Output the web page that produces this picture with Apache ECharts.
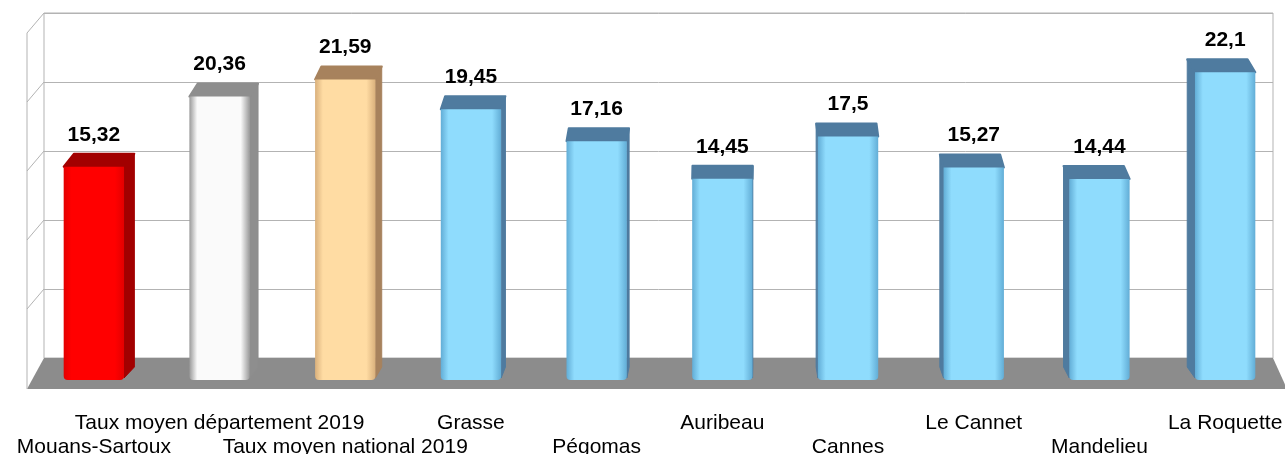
<!DOCTYPE html>
<html>
<head>
<meta charset="utf-8">
<script src="https://cdn.jsdelivr.net/npm/echarts@6/dist/echarts.min.js"></script>
<style>
html,body{margin:0;padding:0;background:#fff;}
#chart{width:1285px;height:454px;}
</style>
</head>
<body>
<div id="chart"></div>
<script>
// ---- data ----
const categories = ['Mouans-Sartoux', 'Taux moyen département 2019', 'Taux moyen national 2019', 'Grasse', 'Pégomas', 'Auribeau', 'Cannes', 'Le Cannet', 'Mandelieu', 'La Roquette'];
const values = [15.32, 20.36, 21.59, 19.45, 17.16, 14.45, 17.5, 15.27, 14.44, 22.1];
const yMin = 0;
const yMax = 25;
const yStep = 5;

// ---- styles (per bar) ----
const RED = {front: '#ff0000', edge: '#e40000', dark: '#a20000'};
const WHITE = {front: '#fafafa', edge: '#9a9a9a', dark: '#8e8e8e'};
const PEACH = {front: '#ffdca3', edge: '#d9b07c', dark: '#a7825d'};
const BLUE = {front: '#8fdcfd', edge: '#62add6', dark: '#4f7b9f'};
const palette = [RED, WHITE, PEACH, BLUE, BLUE, BLUE, BLUE, BLUE, BLUE, BLUE];

const FONT = '"Liberation Sans", Arial, sans-serif';
const GRIDCOL = '#b3b3b3';

function fmt(v) { return String(v).replace('.', ','); }

const chart = echarts.init(document.getElementById('chart'), null, {renderer: 'canvas'});

function renderRoom(params, api) {
  const cs = params.coordSys;
  const x0 = cs.x, x1 = cs.x + cs.width;
  const yb = api.coord([0, yMin])[1];
  const children = [];
  // floor
  children.push({
    type: 'polygon',
    shape: {points: [[x0, yb], [x1, yb], [x1 + 14, yb + 31], [x0 - 17, yb + 31]]},
    style: {fill: '#8c8c8c'}
  });
  // left side wall
  const ytop = api.coord([0, yMax])[1];
  children.push({
    type: 'line',
    shape: {x1: x0 - 17, y1: ytop + 20, x2: x0 - 17, y2: yb + 31},
    style: {stroke: GRIDCOL, lineWidth: 1}
  });
  for (let t = yMin + yStep; t <= yMax; t += yStep) {
    const y = api.coord([0, t])[1];
    children.push({
      type: 'line',
      shape: {x1: x0, y1: y, x2: x0 - 17, y2: y + 20},
      style: {stroke: GRIDCOL, lineWidth: 1}
    });
  }
  return {type: 'group', children: children};
}

function renderBar(params, api) {
  const i = params.dataIndex;
  const v = api.value(1);
  const top = api.coord([i, v]);
  const base = api.coord([i, 0]);
  const band = api.size([1, 0])[0];
  const w = band * 0.48;
  const cx = top[0];
  const x0 = cx - w / 2, x1 = cx + w / 2;
  const yt = top[1], yb = base[1];
  const dx = (740 - cx) * 0.016;
  const dy = -13;
  const p = palette[i];
  const children = [];
  // side face
  const sx = dx >= 0 ? x1 : x0;
  children.push({
    type: 'polygon',
    shape: {points: [[sx, yt], [sx + dx, yt + dy], [sx + dx, yb + dy], [sx, yb - 2]]},
    style: {fill: p.dark, stroke: p.dark, lineWidth: 1, lineJoin: 'round'}
  });
  // top face
  children.push({
    type: 'polygon',
    shape: {points: [[x0, yt], [x1, yt], [x1 + dx, yt + dy], [x0 + dx, yt + dy]]},
    style: {fill: p.dark, stroke: p.dark, lineWidth: 2, lineJoin: 'round'}
  });
  // front face
  children.push({
    type: 'rect',
    shape: {x: x0, y: yt, width: w, height: yb - yt, r: [0, 0, 4, 4]},
    style: {
      fill: new echarts.graphic.LinearGradient(0, 0, 1, 0, [
        {offset: 0, color: p.edge},
        {offset: 0.13, color: p.front},
        {offset: 0.85, color: p.front},
        {offset: 1, color: p.edge}
      ])
    }
  });
  // value label
  children.push({
    type: 'text',
    style: {
      text: fmt(v),
      x: cx,
      y: yt - 32,
      align: 'center',
      verticalAlign: 'middle',
      font: 'bold 21px ' + FONT,
      fill: '#000'
    }
  });
  return {type: 'group', children: children};
}

const option = {
  backgroundColor: '#ffffff',
  animation: false,
  grid: [
    {left: 44, right: 12, top: 13, bottom: 96, show: true, backgroundColor: '#ffffff', borderColor: GRIDCOL, borderWidth: 1, outerBoundsMode: 'none', containLabel: false},
    {left: 31, width: 1257, top: 32, bottom: 74, outerBoundsMode: 'none', containLabel: false}
  ],
  xAxis: [
    {gridIndex: 0, type: 'value', min: 0, max: 1, show: false},
    {
      gridIndex: 1, type: 'category', data: categories,
      axisLine: {show: false}, axisTick: {show: false},
      axisLabel: {
        interval: 0, margin: 31, color: '#000',
        fontFamily: FONT, fontSize: 21, lineHeight: 24,
        formatter: function (val, idx) { return idx % 2 === 0 ? '\n' + val : val; }
      }
    }
  ],
  yAxis: [
    {
      gridIndex: 0, type: 'value', min: yMin, max: yMax, interval: yStep,
      axisLine: {show: false}, axisTick: {show: false}, axisLabel: {show: false},
      splitLine: {show: true, lineStyle: {color: GRIDCOL, width: 1}}
    },
    {gridIndex: 1, type: 'value', min: yMin, max: yMax, interval: yStep, show: false, splitLine: {show: false}}
  ],
  series: [
    {
      type: 'custom', xAxisIndex: 0, yAxisIndex: 0, clip: false, z: 1, silent: true,
      renderItem: renderRoom, data: [[0, 0]]
    },
    {
      type: 'custom', xAxisIndex: 1, yAxisIndex: 1, clip: false, z: 5,
      renderItem: renderBar,
      encode: {x: 0, y: 1},
      data: values.map(function (v, i) { return [i, v]; })
    }
  ]
};
chart.setOption(option);
</script>
</body>
</html>
